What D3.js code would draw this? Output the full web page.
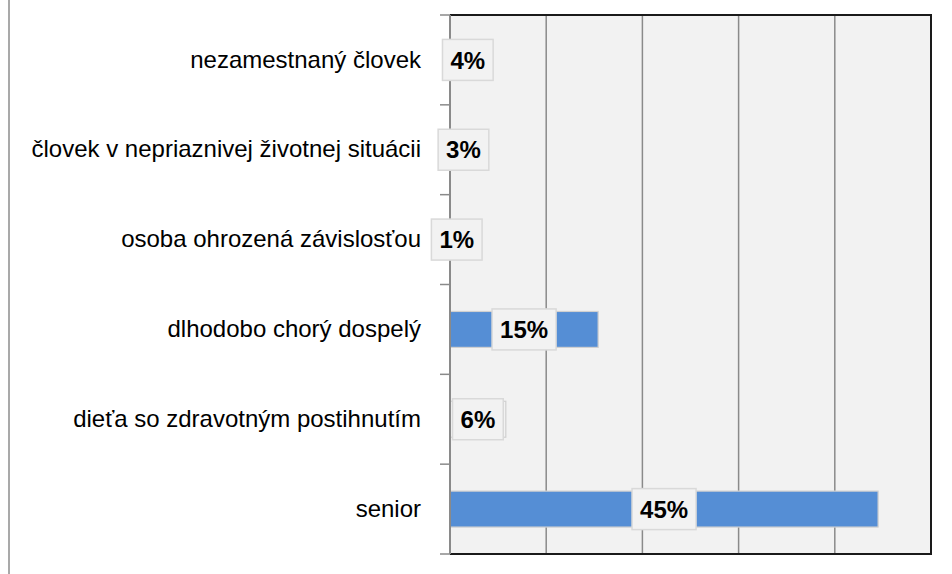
<!DOCTYPE html>
<html>
<head>
<meta charset="UTF-8" />
<style>
body { margin: 0; background: #fff; }
text { font-family: "Liberation Sans", Arial, sans-serif; }
</style>
</head>
<body>
<script src="https://d3js.org/d3.v7.min.js"></script>
<script>
var width = 952;
var height = 574;

// data, top to bottom as drawn
var categories = [
	"nezamestnaný človek",
	"človek v nepriaznivej životnej situácii",
	"osoba ohrozená závislosťou",
	"dlhodobo chorý dospelý",
	"dieťa so zdravotným postihnutím",
	"senior"
];
var values = [3.7, 2.8, 1.4, 15.4, 5.8, 44.5];
var valueLabels = ["4%", "3%", "1%", "15%", "6%", "45%"];
var xTicks = [0, 10, 20, 30, 40, 50];

var data = categories.map((c, i) => ({cat: c, value: values[i], label: valueLabels[i]}));

var plotLeft = 450, plotRight = 931, plotTop = 15, plotBottom = 554;

var svg = d3.select("body")
			.append("svg")
			.attr("width", width)
			.attr("height", height);

// left edge line of the chart area
svg.append("line")
   .attr("x1", 9).attr("x2", 9)
   .attr("y1", 0).attr("y2", height)
   .attr("stroke", "#8c8c8c")
   .attr("stroke-width", 1.5);

var x = d3.scaleLinear().domain([0, 50]).range([plotLeft, plotRight]);
var y = d3.scaleBand().domain(categories).range([plotTop, plotBottom])
		  .paddingInner(0.6).paddingOuter(0.3);

// plot background
svg.append("rect")
   .attr("x", plotLeft).attr("y", plotTop)
   .attr("width", plotRight - plotLeft).attr("height", plotBottom - plotTop)
   .attr("fill", "#f2f2f2");

// vertical gridlines
svg.append("g")
   .selectAll("line")
   .data(xTicks.slice(1, -1))
   .enter()
   .append("line")
   .attr("x1", d => x(d)).attr("x2", d => x(d))
   .attr("y1", plotTop).attr("y2", plotBottom)
   .attr("stroke", "#8a8a8a")
   .attr("stroke-width", 1.5);

// bars
svg.append("g")
   .selectAll("rect")
   .data(data)
   .enter()
   .append("rect")
   .attr("x", x(0))
   .attr("y", d => y(d.cat))
   .attr("width", d => x(d.value) - x(0))
   .attr("height", y.bandwidth())
   .attr("fill", d => d.value >= 10 ? "#558ed5" : "#f2f2f2")
   .attr("stroke", "#d0d0d0")
   .attr("stroke-width", 1.2);

// plot border (top, right, bottom)
svg.append("path")
   .attr("d", "M" + plotLeft + "," + plotTop + "H" + plotRight + "V" + plotBottom + "H" + plotLeft)
   .attr("fill", "none")
   .attr("stroke", "#1a1a1a")
   .attr("stroke-width", 2);

// category axis
var yAxis = d3.axisLeft(y).tickSize(0).tickPadding(29);
var gy = svg.append("g")
			.attr("transform", "translate(" + plotLeft + ",0)")
			.call(yAxis);
gy.select(".domain").remove();
gy.selectAll("text")
  .attr("font-size", 24)
  .attr("font-family", "'Liberation Sans', Arial, sans-serif")
  .attr("fill", "#000");

// axis line and tick marks at band edges
var step = y.step();
var edges = d3.range(categories.length + 1).map(i => plotTop + i * step);
svg.append("line")
   .attr("x1", plotLeft).attr("x2", plotLeft)
   .attr("y1", plotTop).attr("y2", plotBottom)
   .attr("stroke", "#8a8a8a")
   .attr("stroke-width", 2);
svg.append("g")
   .selectAll("line")
   .data(edges)
   .enter()
   .append("line")
   .attr("x1", plotLeft - 10).attr("x2", plotLeft)
   .attr("y1", d => d).attr("y2", d => d)
   .attr("stroke", "#8a8a8a")
   .attr("stroke-width", 1.5);

// data labels
var lab = svg.append("g")
			 .selectAll("g")
			 .data(data)
			 .enter()
			 .append("g")
			 .attr("transform", d => "translate(" + (x(0) + x(d.value)) / 2 + "," + (y(d.cat) + y.bandwidth() / 2) + ")");

lab.append("text")
   .attr("text-anchor", "middle")
   .attr("dy", "0.36em")
   .attr("font-size", 24)
   .attr("font-weight", "bold")
   .attr("fill", "#000")
   .text(d => d.label);

lab.insert("rect", "text")
   .each(function() {
	   var b = this.parentNode.querySelector("text").getBBox();
	   d3.select(this)
		 .attr("x", b.x - 8)
		 .attr("y", -20.5)
		 .attr("width", b.width + 16)
		 .attr("height", 41);
   })
   .attr("fill", "#f2f2f2")
   .attr("stroke", "#d9d9d9")
   .attr("stroke-width", 1.5);
</script>
</body>
</html>
